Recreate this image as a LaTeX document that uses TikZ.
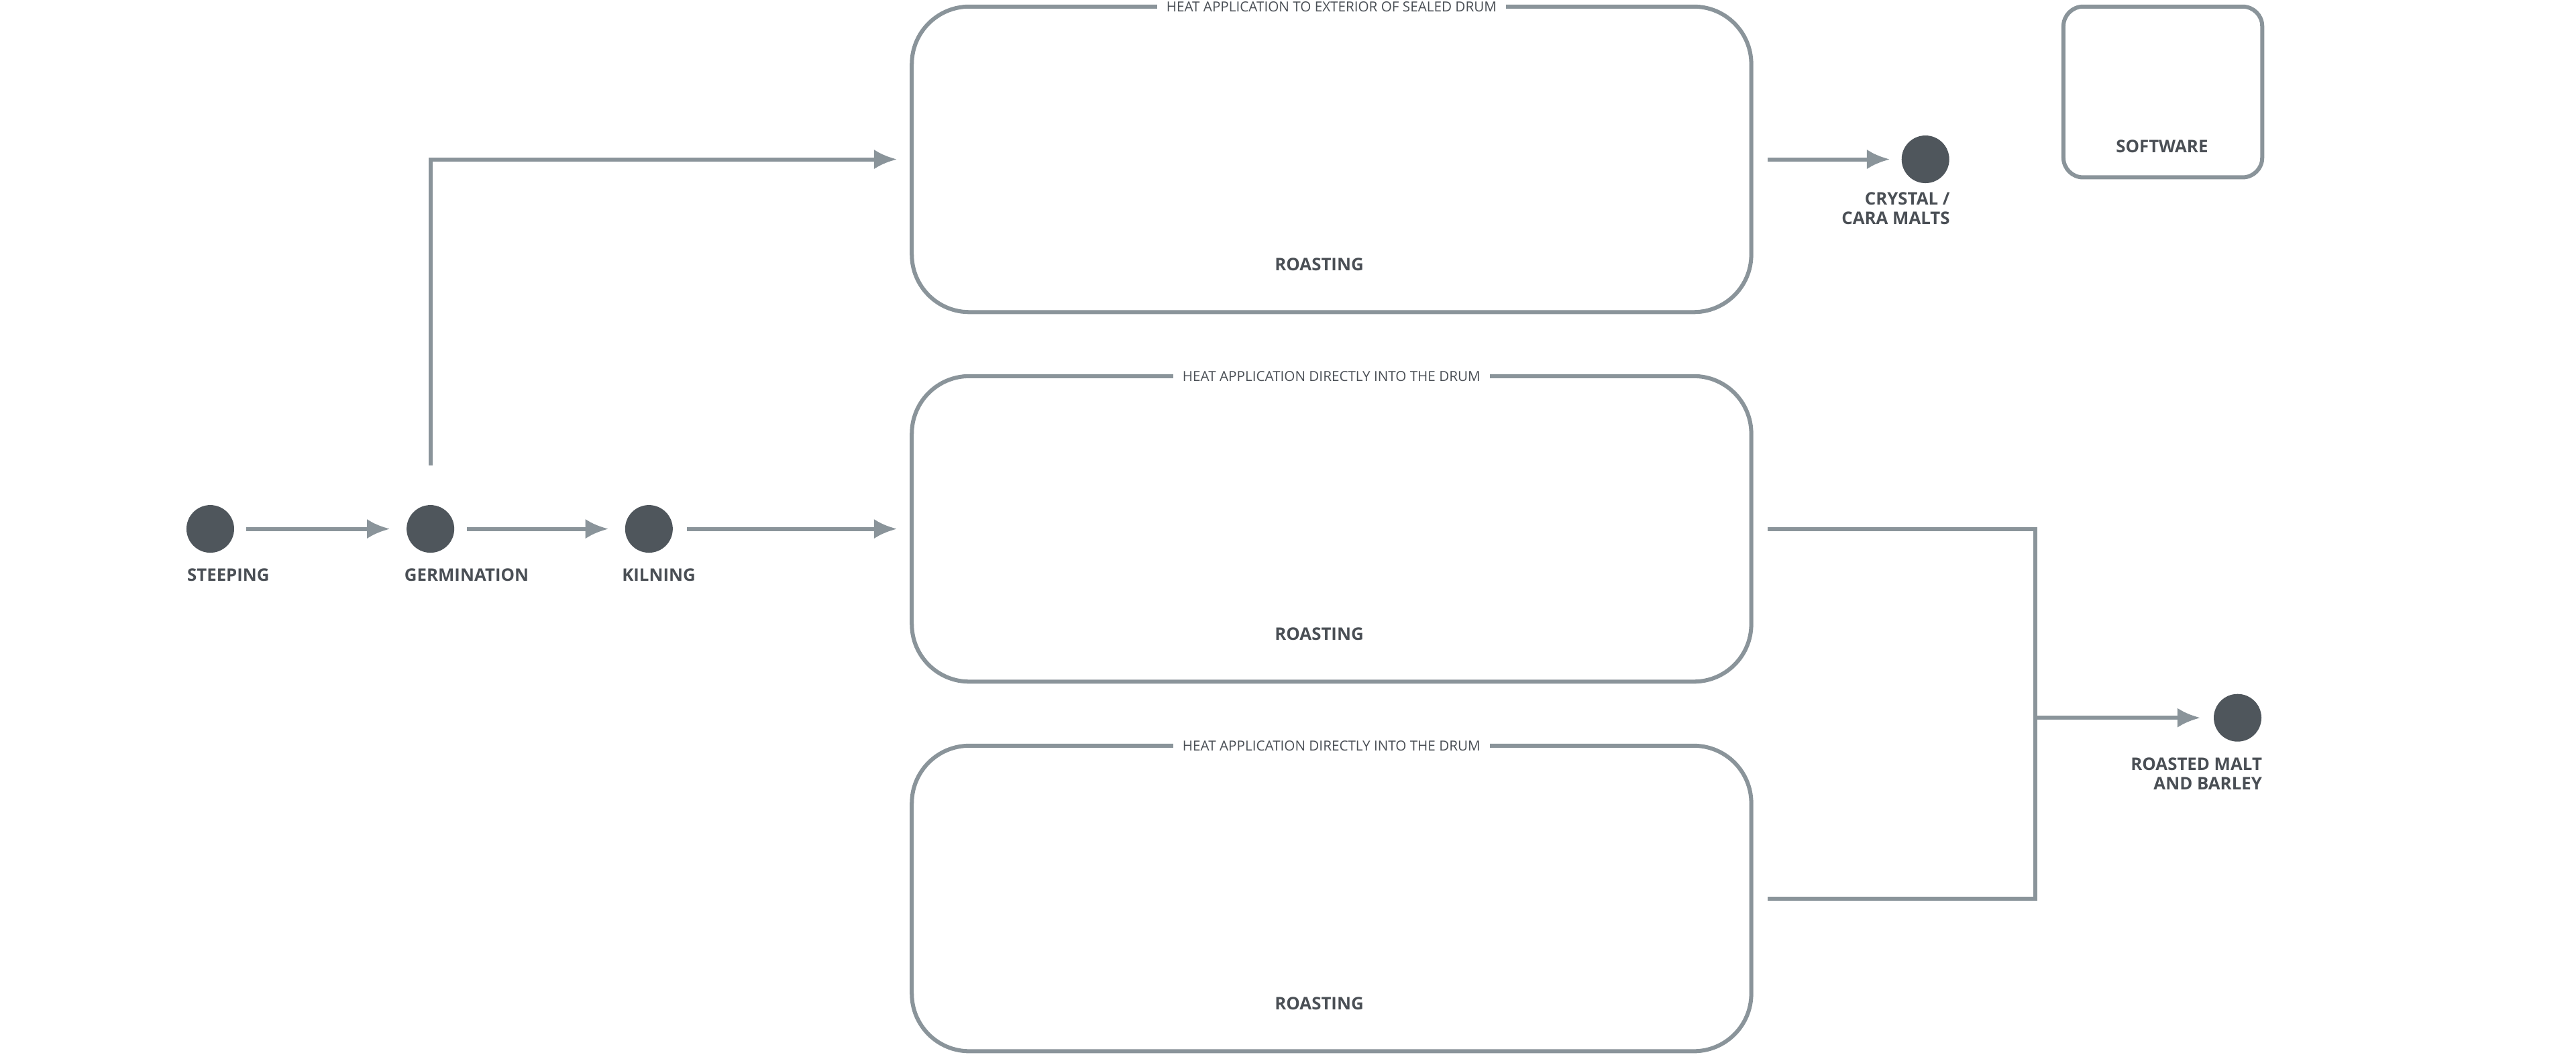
\documentclass[tikz,border=0pt]{standalone}
\usepackage{fontspec}
\setmainfont{Open Sans}
\usetikzlibrary{arrows.meta,positioning}
\definecolor{linegray}{HTML}{8A949A}
\definecolor{dotgray}{HTML}{4F565C}
\definecolor{textgray}{HTML}{4A4F55}
\begin{document}
\begin{tikzpicture}
		[   x=0.05cm,y=-0.05cm,
		    stage/.style={draw=none,fill=dotgray,minimum size=1.45cm,circle,inner sep=0pt},
		    drum/.style={draw=linegray,line width=3.5pt,rounded corners=1.75cm,minimum width=25.55cm,minimum height=9.3cm},
		    caption/.style={font=\bfseries\fontsize{15}{17}\selectfont,text=textgray,align=#1,inner sep=0pt},
		    heat/.style={fill=white,font=\fontsize{12}{14}\selectfont,text=textgray,inner xsep=8pt,inner ysep=2pt},
		]
		\tikzset{normal arrow/.style={draw=linegray,line width=3.5pt,-{Latex[length=0.7cm,width=0.6cm]}},
		         plain line/.style={draw=linegray,line width=3.5pt}}
		\useasboundingbox (0,0) rectangle (1568,642);
		\node[stage] (steep) at (128,322) {};
		\node[stage] (germ) at (262,322) {};
		\node[stage] (kiln) at (395,322) {};
		\node[stage] (crystal) at (1172,97) {};
		\node[stage] (roasted) at (1362,437) {};

		\node[caption=left,anchor=north] at (139,346) {STEEPING};
		\node[caption=left,anchor=north] at (284,346) {GERMINATION};
		\node[caption=left,anchor=north] at (401,346) {KILNING};
		\node[caption=right,anchor=north east] at (1187,117) {CRYSTAL /\\CARA MALTS};
		\node[caption=right,anchor=north east] at (1377,461) {ROASTED MALT\\AND BARLEY};

		\foreach \n/\y in {1/97,2/322,3/547}
		{
			\node[drum] (drum-\n) at (810.5,\y) {};
			\node[caption=center] at (803,\y+64) {ROASTING};
			\coordinate (in-\n) at (546,\y);
			\coordinate (out-\n) at (1076,\y);
		}
		\node[heat] at (810.5,4) {HEAT APPLICATION TO EXTERIOR OF SEALED DRUM};
		\node[heat] at (810.5,229) {HEAT APPLICATION DIRECTLY INTO THE DRUM};
		\node[heat] at (810.5,454) {HEAT APPLICATION DIRECTLY INTO THE DRUM};

		\node[draw=linegray,line width=3.5pt,rounded corners=0.6cm,minimum width=6.05cm,minimum height=5.2cm] (soft) at (1316.5,56) {};
		\node[caption=center] at (1316,89) {SOFTWARE};

		\path[normal arrow] (steep) ++(22,0) -- ([xshift=-0.5cm]germ.west);
		\path[normal arrow] (germ) ++(22,0) -- ([xshift=-0.5cm]kiln.west);
		\path[normal arrow] (kiln) ++(23,0) -- (in-2);
		\path[normal arrow] ([yshift=1.2cm]germ.north) |- (in-1);
		\path[normal arrow] (out-1) -- ([xshift=-0.35cm]crystal.west);

		\coordinate (join) at (1239,437);
		\path[plain line] (out-2) -| (join) |- (out-3);
		\path[normal arrow] (join) -- ([xshift=-0.4cm]roasted.west);
\end{tikzpicture}
\end{document}
